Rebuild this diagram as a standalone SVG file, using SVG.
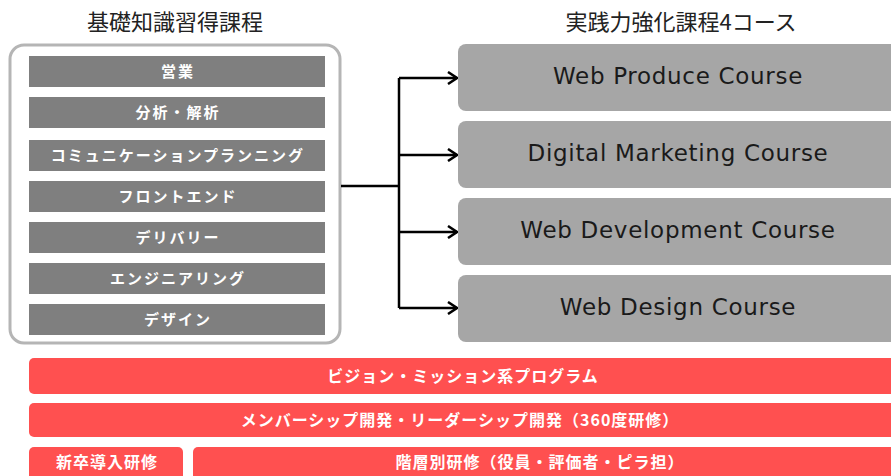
<svg xmlns="http://www.w3.org/2000/svg" width="891" height="476" viewBox="0 0 891 476">
<defs>
<marker id="arr" markerWidth="12" markerHeight="14" refX="10" refY="7" orient="auto" markerUnits="userSpaceOnUse">
<path d="M1,1 L10,7 L1,13" fill="none" stroke="#000" stroke-width="2.5"/>
</marker>
</defs>
<style>
.title{font-family:"Noto Sans CJK JP","Noto Sans",sans-serif;font-size:22px;fill:#222;text-anchor:middle}
.gbar{fill:#7f7f7f}
.gtxt{font-family:"Noto Sans CJK JP",sans-serif;font-size:15px;font-weight:bold;fill:#fff;text-anchor:middle;letter-spacing:2px}
.cbox{fill:#a6a6a6}
.ctxt{font-family:"DejaVu Sans",Verdana,sans-serif;font-size:23px;fill:#1a1a1a;text-anchor:middle;letter-spacing:0.7px}
.rbar{fill:#ff5050}
.rtxt{font-family:"Noto Sans CJK JP",sans-serif;font-size:16px;font-weight:bold;fill:#fff;text-anchor:middle;letter-spacing:1px}
.conn{fill:none;stroke:#000;stroke-width:2.5}
</style>
<rect width="891" height="476" fill="#fff"/>
<text class="title" x="175" y="30">基礎知識習得課程</text>
<text class="title" x="681" y="30">実践力強化課程4コース</text>

<g id="basic">
<rect x="10" y="45" width="330" height="298" rx="14" fill="#fff" stroke="#b5b5b5" stroke-width="3"/>
<g id="b1"><rect class="gbar" x="29" y="56" width="296" height="31"/><text class="gtxt" x="178" y="77">営業</text></g>
<g id="b2"><rect class="gbar" x="29" y="97" width="296" height="31"/><text class="gtxt" x="178" y="118">分析・解析</text></g>
<g id="b3"><rect class="gbar" x="29" y="140" width="296" height="31"/><text class="gtxt" x="178" y="161">コミュニケーションプランニング</text></g>
<g id="b4"><rect class="gbar" x="29" y="181" width="296" height="31"/><text class="gtxt" x="178" y="202">フロントエンド</text></g>
<g id="b5"><rect class="gbar" x="29" y="222" width="296" height="31"/><text class="gtxt" x="178" y="243">デリバリー</text></g>
<g id="b6"><rect class="gbar" x="29" y="263" width="296" height="31"/><text class="gtxt" x="178" y="284">エンジニアリング</text></g>
<g id="b7"><rect class="gbar" x="29" y="304" width="296" height="31"/><text class="gtxt" x="178" y="325">デザイン</text></g>
</g>

<g id="connectors">
<path class="conn" d="M341,186 H399"/>
<path class="conn" d="M399,78 V308"/>
<path class="conn" d="M399,78 H457" marker-end="url(#arr)"/>
<path class="conn" d="M399,155 H457" marker-end="url(#arr)"/>
<path class="conn" d="M399,232 H457" marker-end="url(#arr)"/>
<path class="conn" d="M399,308 H457" marker-end="url(#arr)"/>
</g>

<g id="c1"><rect class="cbox" x="458" y="44" width="440" height="67" rx="8"/><text class="ctxt" x="678" y="84">Web Produce Course</text></g>
<g id="c2"><rect class="cbox" x="458" y="121" width="440" height="67" rx="8"/><text class="ctxt" x="678" y="161">Digital Marketing Course</text></g>
<g id="c3"><rect class="cbox" x="458" y="198" width="440" height="67" rx="8"/><text class="ctxt" x="678" y="238">Web Development Course</text></g>
<g id="c4"><rect class="cbox" x="458" y="275" width="440" height="67" rx="8"/><text class="ctxt" x="678" y="315">Web Design Course</text></g>

<g id="r1"><rect class="rbar" x="29" y="358" width="875" height="36" rx="5"/><text class="rtxt" x="463" y="382">ビジョン・ミッション系プログラム</text></g>
<g id="r2"><rect class="rbar" x="29" y="403" width="875" height="34" rx="5"/><text class="rtxt" x="460" y="426">メンバーシップ開発・リーダーシップ開発（360度研修）</text></g>
<g id="r3"><rect class="rbar" x="29" y="447" width="154" height="40" rx="5"/><text class="rtxt" x="107" y="468">新卒導入研修</text></g>
<g id="r4"><rect class="rbar" x="193" y="447" width="711" height="40" rx="5"/><text class="rtxt" x="540" y="468">階層別研修（役員・評価者・ピラ担）</text></g>
</svg>
